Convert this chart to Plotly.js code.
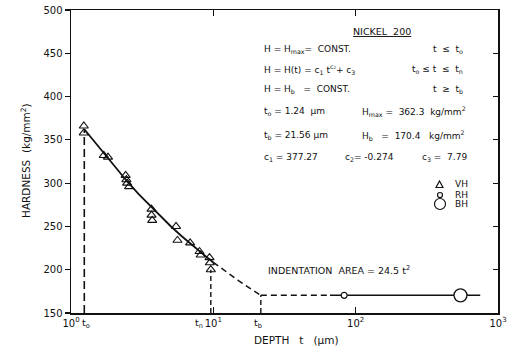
<!DOCTYPE html>
<html>
<head>
<meta charset="utf-8">
<script src="https://cdn.plot.ly/plotly-3.0.1.min.js"></script>
<style>html,body{margin:0;padding:0;background:#fff;}#chart{width:520px;height:355px;}</style>
</head>
<body>
<div id="chart"></div>
<script>
// ---- data ----
const vhDepth = [1.23, 1.23, 1.70, 1.82, 2.42, 2.45, 2.48, 2.56, 3.68, 3.68, 3.72, 5.47, 5.60, 6.87, 8.0, 8.15, 9.4, 9.45, 9.6];
const vhHard  = [366, 358, 332, 330, 309, 304, 300, 296, 270, 263, 257, 250, 234, 231, 221, 217, 214, 208, 200];
const fitDepth = [1.24, 1.5, 2, 2.5, 3, 4, 5, 6, 7, 8, 9, 10];
const fitHard  = [362.3, 345.4, 319.8, 301.3, 287.0, 265.8, 250.5, 238.7, 229.1, 221.2, 214.4, 208.5];
const extDepth = [10, 12, 15, 18, 21.56];
const extHard  = [208.5, 198.8, 187.5, 178.7, 170.4];
const plateauDashDepth = [21.56, 66];
const plateauSolidDepth = [66, 750];
const plateauHard = [170.4, 170.4];
const rhDepth = [83];
const rhHard = [170.4];
const bhDepth = [545];
const bhHard = [170.4];
const tO = 1.24, tN = 9.6, tB = 21.56, hMax = 362.3, hB = 170.4, hMin = 150;
const xTickVals = [1, 10, 100, 1000];
const xTickText = ['10<sup>0</sup>', '10<sup>1</sup>', '10<sup>2</sup>', '10<sup>3</sup>'];
const yTickVals = [150, 200, 250, 300, 350, 400, 450, 500];

// ---- geometry helpers (pixel -> paper) ----
const L = 71, R = 498, T = 10, B = 313;
const px = x => (x - L) / (R - L);
const py = y => (B - y) / (B - T);
const ink = '#111';
const FONT = 'DejaVu Sans, sans-serif';

const traces = [
  {x: fitDepth, y: fitHard, mode: 'lines', line: {color: ink, width: 1.8}, hoverinfo: 'skip'},
  {x: extDepth, y: extHard, mode: 'lines', line: {color: ink, width: 1.5, dash: '6px,4px'}, hoverinfo: 'skip'},
  {x: [tO, tO], y: [hMin, hMax], mode: 'lines', line: {color: ink, width: 1.6, dash: '8px,4px'}, hoverinfo: 'skip'},
  {x: [tN, tN], y: [hMin, 200], mode: 'lines', line: {color: ink, width: 1.4, dash: '5px,3px'}, hoverinfo: 'skip'},
  {x: [tB, tB], y: [hMin, hB], mode: 'lines', line: {color: ink, width: 1.4, dash: '5px,3px'}, hoverinfo: 'skip', yaxis: 'y2'},
  {x: plateauDashDepth, y: plateauHard, mode: 'lines', line: {color: ink, width: 1.5, dash: '6px,4px'}, hoverinfo: 'skip'},
  {x: plateauSolidDepth, y: plateauHard, mode: 'lines', line: {color: ink, width: 1.5}, hoverinfo: 'skip'},
  {x: vhDepth, y: vhHard, mode: 'markers', name: 'VH',
   marker: {symbol: 'triangle-up-open', size: 8, color: ink, line: {width: 1.1, color: ink}}},
  {x: rhDepth, y: rhHard, mode: 'markers', name: 'RH',
   marker: {symbol: 'circle', size: 6, color: '#fff', line: {width: 1.2, color: ink}}},
  {x: bhDepth, y: bhHard, mode: 'markers', name: 'BH',
   marker: {symbol: 'circle', size: 13, color: '#fff', line: {width: 1.3, color: ink}}}
];

function txt(x, y, text, opts) {
  return Object.assign({xref: 'paper', yref: 'paper', x: px(x), y: py(y), text: text,
    showarrow: false, xanchor: 'left', yanchor: 'middle',
    font: {family: FONT, size: 9, color: ink}}, opts || {});
}

const annotations = [
  txt(382, 32, '<u>NICKEL  200</u>', {xanchor: 'center', font: {family: FONT, size: 9.5, color: ink}}),
  txt(262, 49, 'H = H<sub>max</sub>=  CONST.'),
  txt(465, 49, 't  ≤  t<sub>o</sub>', {xanchor: 'right'}),
  txt(262, 70, 'H = H(t) = c<sub>1</sub> t<sup>c₂</sup>+ c<sub>3</sub>'),
  txt(465, 70, 't<sub>o</sub> ≤ t  ≤  t<sub>n</sub>', {xanchor: 'right'}),
  txt(262, 89, 'H = H<sub>b</sub>   =  CONST.'),
  txt(465, 89, 't  ≥  t<sub>b</sub>', {xanchor: 'right'}),
  txt(262, 112, 't<sub>o</sub> = 1.24  μm'),
  txt(360, 112, 'H<sub>max</sub> =  362.3  kg/mm<sup>2</sup>'),
  txt(262, 135, 't<sub>b</sub> = 21.56 μm'),
  txt(360, 135, 'H<sub>b</sub>   =  170.4   kg/mm<sup>2</sup>'),
  txt(262, 157, 'c<sub>1</sub> = 377.27'),
  txt(343, 157, 'c<sub>2</sub>= -0.274'),
  txt(420, 157, 'c<sub>3</sub> =  7.79'),
  // legend labels
  txt(453, 184, 'VH'),
  txt(453, 195, 'RH'),
  txt(453, 204, 'BH'),
  // indentation area
  txt(266, 270, 'INDENTATION  AREA = 24.5 t<sup>2</sup>', {font: {family: FONT, size: 9.5, color: ink}}),
  // special depth labels on x axis
  txt(86, 323, 't<sub>o</sub>', {xanchor: 'center', font: {family: FONT, size: 9.5, color: ink}}),
  txt(199, 323, 't<sub>n</sub>', {xanchor: 'center', font: {family: FONT, size: 9.5, color: ink}}),
  txt(258, 323, 't<sub>b</sub>', {xanchor: 'center', font: {family: FONT, size: 9.5, color: ink}}),
  // axis titles
  txt(296, 340, 'DEPTH   t   (μm)', {xanchor: 'center', font: {family: FONT, size: 10.5, color: ink}}),
  txt(25, 161, 'HARDNESS  (kg/mm<sup>2</sup>)', {xanchor: 'center', textangle: -90, font: {family: FONT, size: 10.5, color: ink}})
];

// legend key symbols (paper-positioned shapes)
function circ(cx, cy, r) {
  return {type: 'circle', xref: 'paper', yref: 'paper',
    x0: px(cx - r), x1: px(cx + r), y0: py(cy + r), y1: py(cy - r),
    line: {color: ink, width: 1.2}, fillcolor: '#fff'};
}
const shapes = [
  {type: 'path', xref: 'paper', yref: 'paper',
   path: 'M' + px(436) + ',' + py(187.5) + ' L' + px(443) + ',' + py(187.5) + ' L' + px(439.5) + ',' + py(181) + ' Z',
   line: {color: ink, width: 1.2}, fillcolor: 'rgba(0,0,0,0)'},
  circ(440, 195, 2.5),
  circ(440, 204, 5.5)
];

const layout = {
  width: 520, height: 355,
  margin: {l: L, r: 520 - R, t: T, b: 355 - B, pad: 0},
  paper_bgcolor: '#fff', plot_bgcolor: '#fff',
  showlegend: false,
  font: {family: FONT, size: 10, color: ink},
  xaxis: {type: 'log', range: [0, 3], tickvals: xTickVals, ticktext: xTickText,
    ticks: 'inside', ticklen: 6, tickwidth: 1.2, tickcolor: ink,
    showline: true, linecolor: ink, linewidth: 1.5, mirror: 'ticks',
    showgrid: false, zeroline: false, tickfont: {family: FONT, size: 10, color: ink}},
  yaxis: {range: [150, 500], tickvals: yTickVals,
    ticks: 'outside', ticklen: 5, tickwidth: 1.2, tickcolor: ink,
    showline: true, linecolor: ink, linewidth: 1.5, mirror: true,
    showgrid: false, zeroline: false, tickfont: {family: FONT, size: 10, color: ink}},
  yaxis2: {range: [150, 500], tickvals: yTickVals, overlaying: 'y', side: 'right',
    ticks: 'inside', ticklen: 5, tickwidth: 1.2, tickcolor: ink,
    showticklabels: false, showline: false, showgrid: false, zeroline: false},
  annotations: annotations,
  shapes: shapes
};

Plotly.newPlot('chart', traces, layout, {staticPlot: true, displayModeBar: false});
</script>
</body>
</html>
